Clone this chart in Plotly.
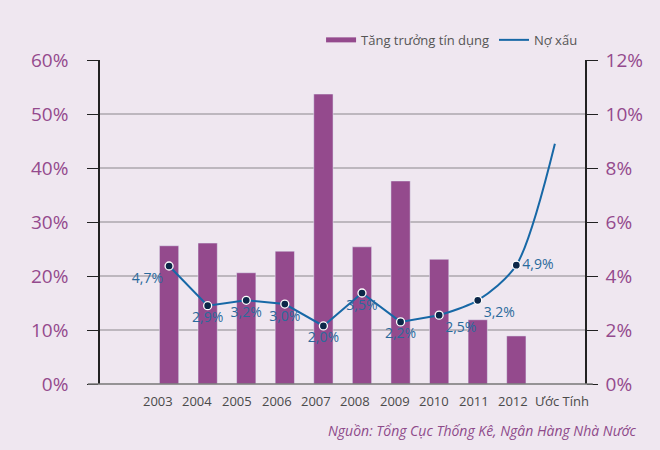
import plotly.graph_objects as go

# ---- data ----
years = [2003, 2004, 2005, 2006, 2007, 2008, 2009, 2010, 2011, 2012, 2013]
tick_labels = ["2003", "2004", "2005", "2006", "2007", "2008", "2009", "2010", "2011", "2012", "Ước Tính"]
credit_growth = [25.6, 26.1, 20.6, 24.6, 53.7, 25.4, 37.6, 23.1, 11.9, 8.9, None]
npl = [4.37, 2.9, 3.1, 2.96, 2.15, 3.37, 2.3, 2.55, 3.1, 4.4, 8.9]
npl_labels = ["4,7%", "2,9%", "3,2%", "3,0%", "2,0%", "3,5%", "2,2%", "2,5%", "3,2%", "4,9%"]

# ---- styling (positions) ----
label_pos = ["bottom left", "bottom center", "bottom center", "bottom center", "bottom center",
             "bottom center", "bottom center", "bottom right", "bottom right", "middle right"]
tick_xshift = [-11, -11, -9, -8, -7, -7, -6, -5, -4, -3, 7]

BG = "#efe7f0"
PURPLE = "#944a8d"
BLUE = "#1768a6"
NAVY = "#0c2748"
FONT = "Open Sans"

fig = go.Figure()

fig.add_trace(go.Bar(
    x=years, y=credit_growth, width=0.5, marker_color=PURPLE,
    showlegend=False, yaxis="y", hoverinfo="skip"))

# legend proxy for bars
fig.add_trace(go.Scatter(
    x=[None], y=[None], mode="lines", line=dict(color=PURPLE, width=5),
    name="Tăng trưởng tín dụng", yaxis="y2"))

fig.add_trace(go.Scatter(
    x=years[:8], y=npl[:8], mode="lines", line=dict(color=BLUE, width=2),
    name="Nợ xấu", yaxis="y2"))
fig.add_trace(go.Scatter(
    x=years[7:], y=npl[7:], mode="lines", line=dict(color=BLUE, width=2, shape="spline", smoothing=0.8),
    showlegend=False, yaxis="y2"))
fig.add_trace(go.Scatter(
    x=years[:10], y=npl[:10], mode="markers+text",
    marker=dict(color=NAVY, size=8, line=dict(color="white", width=1.3)),
    text=npl_labels, textposition=label_pos,
    textfont=dict(color="#2a6a9c", size=14, family=FONT),
    showlegend=False, yaxis="y2"))

annotations = [dict(text=lbl, x=xv, xref="x", y=0, yref="paper", yshift=-17, xshift=sh,
                    xanchor="center", yanchor="middle", showarrow=False,
                    font=dict(size=13, color="#4a4a4a", family=FONT))
               for xv, lbl, sh in zip(years, tick_labels, tick_xshift)]
annotations.append(dict(text="<i>Nguồn: Tổng Cục Thống Kê, Ngân Hàng Nhà Nước</i>",
                        xref="paper", yref="paper", x=1.11, xanchor="right", y=-0.145, yanchor="middle",
                        showarrow=False, font=dict(size=14, color="#8e4a8a", family=FONT)))

fig.update_layout(
    width=660, height=450,
    margin=dict(l=100, r=75, t=60, b=66, autoexpand=False),
    paper_bgcolor=BG, plot_bgcolor=BG,
    font=dict(family=FONT),
    legend=dict(orientation="h", x=0.996, xanchor="right", y=1.062, yanchor="middle",
                font=dict(size=13, color="#555555", family=FONT), bgcolor="rgba(0,0,0,0)",
                traceorder="normal", itemwidth=30),
    xaxis=dict(range=[2001.21, 2013.78], tickvals=years, showticklabels=False,
               showgrid=False, zeroline=False, showline=False, ticks=""),
    yaxis=dict(range=[0, 60], dtick=10, ticksuffix="%", showgrid=True,
               gridcolor="#bdb7be", gridwidth=1.5, zeroline=False,
               showline=True, linecolor="#222222", linewidth=1.5,
               ticks="outside", ticklen=11, tickcolor="#222222", tickwidth=1.2,
               ticklabelstandoff=15,
               tickfont=dict(size=19, color=PURPLE, family=FONT)),
    yaxis2=dict(range=[0, 12], dtick=2, ticksuffix="%", overlaying="y", side="right",
                showgrid=False, zeroline=False,
                showline=True, linecolor="#222222", linewidth=1.5,
                ticks="outside", ticklen=11, tickcolor="#222222", tickwidth=1.2,
                ticklabelstandoff=4,
                tickfont=dict(size=19, color=PURPLE, family=FONT)),
    shapes=[dict(type="line", xref="paper", yref="paper", x0=-0.025, x1=1.016, y0=0, y1=0,
                 line=dict(color="#777777", width=1.5))],
    annotations=annotations,
)

fig.write_html("out.html", config={"displayModeBar": False},
               post_script="document.body.style.margin='0';document.body.style.background='#efe7f0';")
